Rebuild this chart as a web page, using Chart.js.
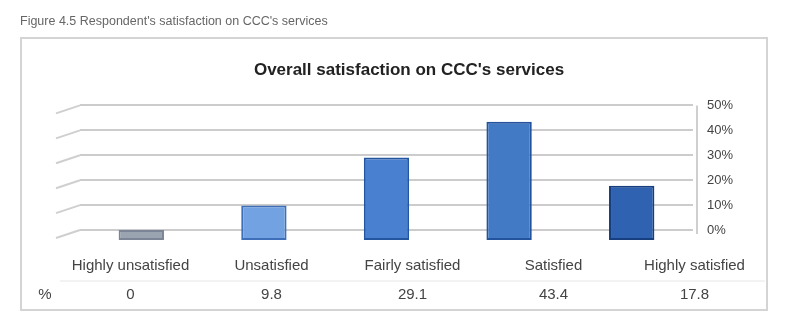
<!DOCTYPE html>
<html>
<head>
<meta charset="utf-8">
<script src="https://cdn.jsdelivr.net/npm/chart.js@4/dist/chart.umd.min.js"></script>
<style>
  html, body { margin: 0; padding: 0; background: #fff; }
  #wrap { position: relative; width: 786px; height: 331px; }
</style>
</head>
<body>
<div id="wrap"><canvas id="chart"></canvas></div>
<script>
const categories = ["Highly unsatisfied", "Unsatisfied", "Fairly satisfied", "Satisfied", "Highly satisfied"];
const percentValues = [0, 9.8, 29.1, 43.4, 17.8];
const tableValues = ["0", "9.8", "29.1", "43.4", "17.8"];
const yTicks = [0, 10, 20, 30, 40, 50];
const caption = "Figure 4.5 Respondent's satisfaction on CCC's services";
const chartTitle = "Overall satisfaction on CCC's services";

const barFill = ["#9aa3b0", "#72a2e2", "#4a80d0", "#437ac6", "#2f63b2"];
const barEdge = ["#7c8595", "#3e6fb8", "#24559f", "#22539c", "#173f80"];

// frame, caption, 3D wall stubs and data table
const extras = {
  id: "extras",
  beforeDraw(chart) {
    const ctx = chart.ctx;
    const y = chart.scales.y;
    const area = chart.chartArea;
    ctx.save();
    ctx.fillStyle = "#fff";
    ctx.fillRect(0, 0, chart.width, chart.height);
    ctx.strokeStyle = "#d4d4d4";
    ctx.lineWidth = 2;
    ctx.strokeRect(21, 38, 746, 272);
    ctx.font = "12.5px 'Liberation Sans', Arial, sans-serif";
    ctx.fillStyle = "#666";
    ctx.textBaseline = "middle";
    ctx.fillText(caption, 20, 22);
    // side wall lines
    ctx.strokeStyle = "#cfcfcf";
    ctx.lineWidth = 2;
    yTicks.forEach(t => {
      const py = y.getPixelForValue(t);
      ctx.beginPath();
      ctx.moveTo(area.left - 24, py + 8);
      ctx.lineTo(area.left, py);
      ctx.stroke();
    });
    ctx.beginPath();
    ctx.moveTo(area.right + 4, area.top);
    ctx.lineTo(area.right + 4, y.getPixelForValue(0) + 4);
    ctx.stroke();
    ctx.restore();
  },
  afterDraw(chart) {
    const ctx = chart.ctx;
    ctx.save();
    ctx.font = "15px 'Liberation Sans', Arial, sans-serif";
    ctx.fillStyle = "#444";
    ctx.textAlign = "center";
    ctx.textBaseline = "middle";
    const left = 60, colW = 141;
    categories.forEach((c, i) => {
      const cx = left + colW * i + colW / 2;
      ctx.fillText(c, cx, 266);
      ctx.fillText(tableValues[i], cx, 295);
    });
    ctx.fillText("%", 45, 295);
    ctx.strokeStyle = "#e6e6e6";
    ctx.lineWidth = 1;
    ctx.beginPath();
    ctx.moveTo(left, 281); ctx.lineTo(left + colW * 5, 281);
    ctx.stroke();
    ctx.restore();
  }
};

new Chart(document.getElementById("chart"), {
  type: "bar",
  data: {
    labels: categories,
    datasets: [{
      label: "%",
      data: percentValues,
      backgroundColor: barFill,
      borderColor: barEdge,
      borderWidth: 2,
      borderSkipped: false,
      barPercentage: 0.37,
      categoryPercentage: 1,
      base: -4
    }]
  },
  options: {
    responsive: true,
    maintainAspectRatio: false,
    animation: false,
    layout: { padding: { left: 80, right: 48, top: 0, bottom: 91 } },
    plugins: {
      legend: { display: false },
      tooltip: { enabled: false },
      title: {
        display: true,
        text: chartTitle,
        color: "#222",
        font: { size: 17, weight: "bold", family: "'Liberation Sans', Arial, sans-serif" },
        padding: { top: 60, bottom: 25 }
      }
    },
    scales: {
      x: { display: false },
      y: {
        position: "right",
        min: -4,
        max: 50,
        afterBuildTicks(s) { s.ticks = yTicks.map(v => ({ value: v })); },
        afterFit(s) { s.width = 45; },
        border: { display: false },
        grid: { color: "#cccccc", lineWidth: 2, drawTicks: false },
        ticks: {
          padding: 14,
          color: "#444",
          font: { size: 13, family: "'Liberation Sans', Arial, sans-serif" },
          callback: v => v + "%"
        }
      }
    }
  },
  plugins: [extras]
});
</script>
</body>
</html>
